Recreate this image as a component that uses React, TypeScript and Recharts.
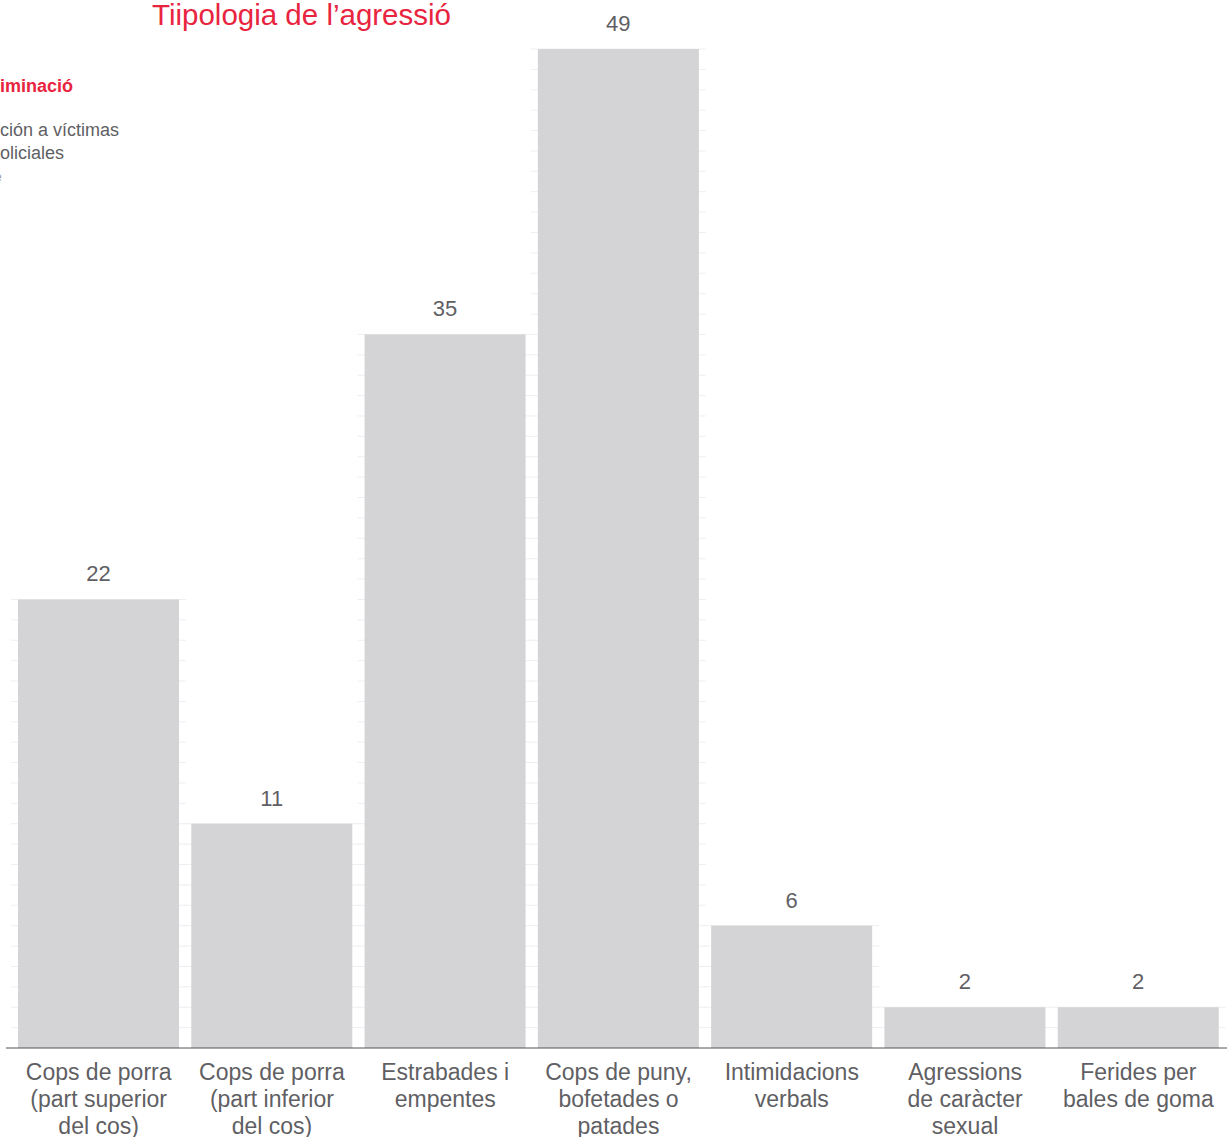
import { BarChart, Bar, XAxis, YAxis, LabelList } from "recharts";

const categories = [
  "Cops de porra\n(part superior\ndel cos)",
  "Cops de porra\n(part inferior\ndel cos)",
  "Estrabades i\nempentes",
  "Cops de puny,\nbofetades o\npatades",
  "Intimidacions\nverbals",
  "Agressions\nde caràcter\nsexual",
  "Ferides per\nbales de goma",
];
const values = [22, 11, 35, 49, 6, 2, 2];

const data = categories.map((name, i) => ({ name, value: values[i] }));

const FONT = "'Liberation Sans', Arial, Helvetica, sans-serif";
const RED = "#e8243f";
const GREY_TEXT = "#5f5f64";

// bar with faint unit rules that stick out a little on each side
const GridBar = (props: any) => {
  const { x, y, width, height, payload } = props;
  const v = payload.value;
  const unit = height / v;
  const rules = [];
  for (let k = 1; k <= v; k++) {
    const ly = y + height - k * unit;
    rules.push(
      <line key={k} x1={x - 7} x2={x + width + 7} y1={ly} y2={ly} stroke="#efeff1" strokeWidth={1} />
    );
  }
  return (
    <g>
      {rules}
      <rect x={x} y={y} width={width} height={height} fill="#d4d4d6" />
    </g>
  );
};

const MultiLineTick = (props: any) => {
  const { x, y, payload } = props;
  const lines = String(payload.value).split("\n");
  return (
    <text x={x} y={y + 32} textAnchor="middle" fontSize={23} fill={GREY_TEXT} fontFamily={FONT}>
      {lines.map((l, i) => (
        <tspan key={i} x={x} dy={i === 0 ? 0 : 27}>
          {l}
        </tspan>
      ))}
    </text>
  );
};

export default function App() {
  return (
    <div style={{ position: "relative", width: 1227, height: 1137, overflow: "hidden", fontFamily: FONT }}>
      <style>{`body{margin:0}`}</style>
      <div style={{ position: "absolute", left: 152, top: -1, fontSize: 29.5, lineHeight: "32px", color: RED, whiteSpace: "nowrap" }}>
        Tiipologia de l’agressió
      </div>
      <div style={{ position: "absolute", left: 0, top: 75, fontSize: 18, fontWeight: 700, color: RED, lineHeight: "22px" }}>
        iminació
      </div>
      <div style={{ position: "absolute", left: 0, top: 119, fontSize: 18, color: GREY_TEXT, lineHeight: "23px" }}>
        ción a víctimas
        <br />
        oliciales
      </div>
      <div style={{ position: "absolute", left: -5, top: 170, fontSize: 12, color: "#9a9a9e", lineHeight: "14px" }}>
        e
      </div>
      <BarChart
        width={1227}
        height={1137}
        data={data}
        margin={{ top: 49, right: 0, left: 6, bottom: 0 }}
        barCategoryGap={6}
      >
        <XAxis
          dataKey="name"
          height={89}
          interval={0}
          tickLine={false}
          tickSize={0}
          tickMargin={0}
          axisLine={{ stroke: "#555559", strokeWidth: 1 }}
          padding={{ left: 6, right: 2 }}
          tick={<MultiLineTick />}
        />
        <YAxis hide domain={[0, 49]} />
        <Bar dataKey="value" shape={<GridBar />} isAnimationActive={false}>
          <LabelList
            dataKey="value"
            position="top"
            offset={18}
            fontSize={22}
            fill={GREY_TEXT}
            fontFamily={FONT}
          />
        </Bar>
      </BarChart>
    </div>
  );
}
